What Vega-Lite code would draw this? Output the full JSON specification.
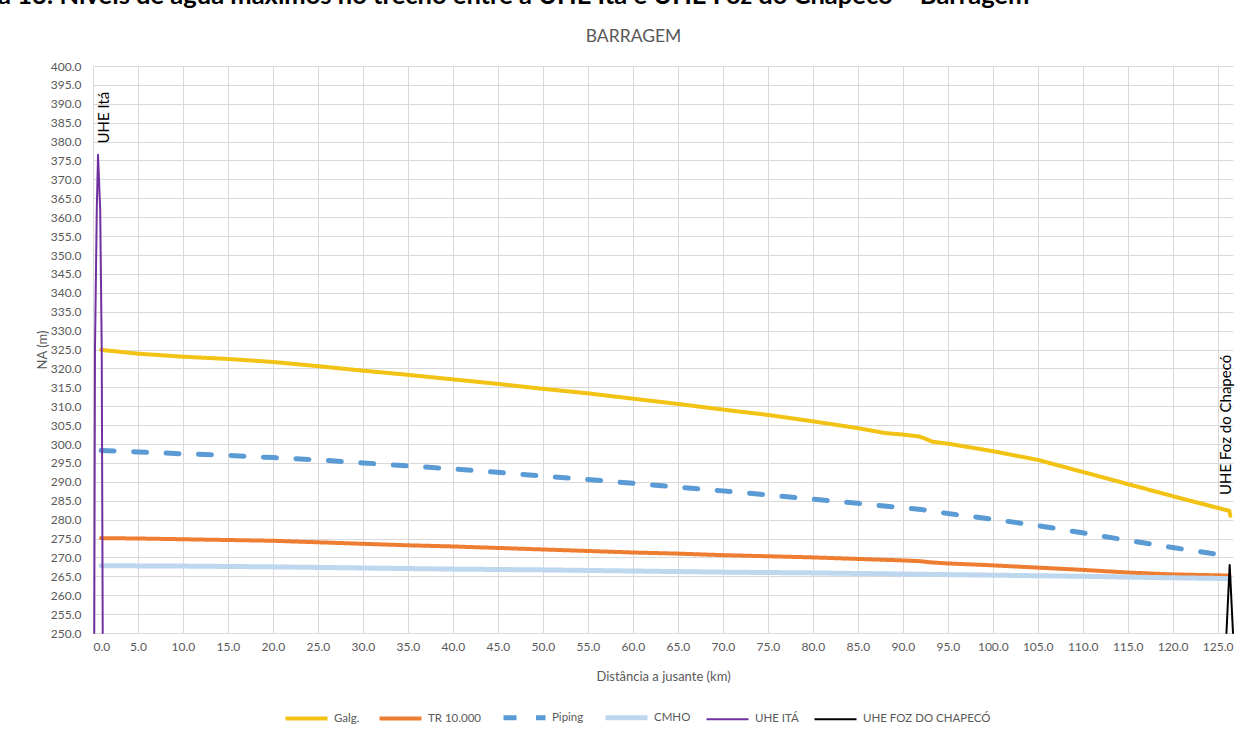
{
  "$schema": "https://vega.github.io/schema/vega-lite/v6.json",
  "autosize": {"type": "none"},
  "width": 1140,
  "height": 567,
  "padding": {"left": 93, "top": 66, "right": 23, "bottom": 100},
  "background": "white",
  "title": {
    "text": "Figura 13: Níveis de água máximos no trecho entre a UHE Itá e UHE Foz do Chapecó – Barragem",
    "anchor": "start",
    "frame": "group",
    "dx": -153,
    "dy": -8,
    "offset": 10,
    "fontSize": 25.5,
    "font": "Lato",
    "fontWeight": "bold",
    "color": "#000000"
  },
  "config": {
    "font": "Lato",
    "view": {"stroke": null},
    "axis": {
      "gridColor": "#d9d9d9",
      "gridWidth": 1,
      "domain": false,
      "ticks": false,
      "labelColor": "#595959",
      "labelFontSize": 12,
      "titleColor": "#595959",
      "titleFontWeight": "normal",
      "titleFontSize": 13
    }
  },
  "resolve": {"axis": {"x": "independent"}},
  "layer": [
    {
      "data": {
        "values": [
          {"series": "Galg.", "km": 0.9, "na": 324.9},
          {"series": "Galg.", "km": 5, "na": 323.9},
          {"series": "Galg.", "km": 10, "na": 323.1},
          {"series": "Galg.", "km": 15, "na": 322.5},
          {"series": "Galg.", "km": 20, "na": 321.7},
          {"series": "Galg.", "km": 25, "na": 320.6},
          {"series": "Galg.", "km": 30, "na": 319.4},
          {"series": "Galg.", "km": 35, "na": 318.3},
          {"series": "Galg.", "km": 40, "na": 317.1},
          {"series": "Galg.", "km": 45, "na": 315.9},
          {"series": "Galg.", "km": 50, "na": 314.6},
          {"series": "Galg.", "km": 55, "na": 313.4},
          {"series": "Galg.", "km": 60, "na": 312.0},
          {"series": "Galg.", "km": 65, "na": 310.6},
          {"series": "Galg.", "km": 70, "na": 309.1},
          {"series": "Galg.", "km": 75, "na": 307.7},
          {"series": "Galg.", "km": 80, "na": 306.0},
          {"series": "Galg.", "km": 85, "na": 304.2},
          {"series": "Galg.", "km": 88, "na": 302.9},
          {"series": "Galg.", "km": 90, "na": 302.5},
          {"series": "Galg.", "km": 91.8, "na": 302.0},
          {"series": "Galg.", "km": 92.5, "na": 301.4},
          {"series": "Galg.", "km": 93.3, "na": 300.6},
          {"series": "Galg.", "km": 95, "na": 300.1},
          {"series": "Galg.", "km": 100, "na": 298.1},
          {"series": "Galg.", "km": 105, "na": 295.8},
          {"series": "Galg.", "km": 110, "na": 292.6},
          {"series": "Galg.", "km": 115, "na": 289.4},
          {"series": "Galg.", "km": 120, "na": 286.2},
          {"series": "Galg.", "km": 125, "na": 283.1},
          {"series": "Galg.", "km": 126.3, "na": 282.3},
          {"series": "Galg.", "km": 126.4, "na": 281.0},
          {"series": "TR 10.000", "km": 0.9, "na": 275.1},
          {"series": "TR 10.000", "km": 5, "na": 275.0},
          {"series": "TR 10.000", "km": 10, "na": 274.8},
          {"series": "TR 10.000", "km": 15, "na": 274.6},
          {"series": "TR 10.000", "km": 20, "na": 274.4},
          {"series": "TR 10.000", "km": 25, "na": 274.0},
          {"series": "TR 10.000", "km": 30, "na": 273.6},
          {"series": "TR 10.000", "km": 35, "na": 273.2},
          {"series": "TR 10.000", "km": 40, "na": 272.9},
          {"series": "TR 10.000", "km": 45, "na": 272.5},
          {"series": "TR 10.000", "km": 50, "na": 272.1},
          {"series": "TR 10.000", "km": 55, "na": 271.7},
          {"series": "TR 10.000", "km": 60, "na": 271.3},
          {"series": "TR 10.000", "km": 65, "na": 271.0},
          {"series": "TR 10.000", "km": 70, "na": 270.6},
          {"series": "TR 10.000", "km": 75, "na": 270.3},
          {"series": "TR 10.000", "km": 80, "na": 270.0},
          {"series": "TR 10.000", "km": 85, "na": 269.6},
          {"series": "TR 10.000", "km": 90, "na": 269.2},
          {"series": "TR 10.000", "km": 92, "na": 269.0},
          {"series": "TR 10.000", "km": 93, "na": 268.7},
          {"series": "TR 10.000", "km": 95, "na": 268.4},
          {"series": "TR 10.000", "km": 100, "na": 267.9},
          {"series": "TR 10.000", "km": 105, "na": 267.3},
          {"series": "TR 10.000", "km": 110, "na": 266.7},
          {"series": "TR 10.000", "km": 115, "na": 266.0},
          {"series": "TR 10.000", "km": 120, "na": 265.5},
          {"series": "TR 10.000", "km": 126.3, "na": 265.2},
          {"series": "Piping", "km": 0.9, "na": 298.3},
          {"series": "Piping", "km": 5, "na": 297.9},
          {"series": "Piping", "km": 10, "na": 297.4},
          {"series": "Piping", "km": 15, "na": 297.0},
          {"series": "Piping", "km": 20, "na": 296.4},
          {"series": "Piping", "km": 25, "na": 295.8},
          {"series": "Piping", "km": 30, "na": 295.0},
          {"series": "Piping", "km": 35, "na": 294.2},
          {"series": "Piping", "km": 40, "na": 293.4},
          {"series": "Piping", "km": 45, "na": 292.5},
          {"series": "Piping", "km": 50, "na": 291.5},
          {"series": "Piping", "km": 55, "na": 290.6},
          {"series": "Piping", "km": 60, "na": 289.6},
          {"series": "Piping", "km": 65, "na": 288.6},
          {"series": "Piping", "km": 70, "na": 287.6},
          {"series": "Piping", "km": 75, "na": 286.5},
          {"series": "Piping", "km": 80, "na": 285.4},
          {"series": "Piping", "km": 85, "na": 284.3},
          {"series": "Piping", "km": 90, "na": 283.1},
          {"series": "Piping", "km": 92, "na": 282.7},
          {"series": "Piping", "km": 95, "na": 281.6},
          {"series": "Piping", "km": 100, "na": 280.1},
          {"series": "Piping", "km": 105, "na": 278.4},
          {"series": "Piping", "km": 110, "na": 276.5},
          {"series": "Piping", "km": 115, "na": 274.5},
          {"series": "Piping", "km": 120, "na": 272.6},
          {"series": "Piping", "km": 125, "na": 270.8},
          {"series": "Piping", "km": 126.3, "na": 270.2},
          {"series": "CMHO", "km": 0.9, "na": 267.8},
          {"series": "CMHO", "km": 10, "na": 267.7},
          {"series": "CMHO", "km": 20, "na": 267.5},
          {"series": "CMHO", "km": 30, "na": 267.2},
          {"series": "CMHO", "km": 40, "na": 266.9},
          {"series": "CMHO", "km": 50, "na": 266.7},
          {"series": "CMHO", "km": 60, "na": 266.4},
          {"series": "CMHO", "km": 70, "na": 266.1},
          {"series": "CMHO", "km": 80, "na": 265.9},
          {"series": "CMHO", "km": 90, "na": 265.6},
          {"series": "CMHO", "km": 100, "na": 265.3},
          {"series": "CMHO", "km": 110, "na": 265.0},
          {"series": "CMHO", "km": 120, "na": 264.6},
          {"series": "CMHO", "km": 126.3, "na": 264.4},
          {"series": "UHE ITÁ", "km": 0.14, "na": 250},
          {"series": "UHE ITÁ", "km": 0.22, "na": 325},
          {"series": "UHE ITÁ", "km": 0.42, "na": 362},
          {"series": "UHE ITÁ", "km": 0.56, "na": 376.5},
          {"series": "UHE ITÁ", "km": 0.8, "na": 362},
          {"series": "UHE ITÁ", "km": 0.97, "na": 325},
          {"series": "UHE ITÁ", "km": 1.08, "na": 250},
          {"series": "UHE FOZ DO CHAPECÓ", "km": 125.97, "na": 250},
          {"series": "UHE FOZ DO CHAPECÓ", "km": 126.33, "na": 268},
          {"series": "UHE FOZ DO CHAPECÓ", "km": 126.7, "na": 250}
        ]
      },
      "mark": {"type": "line", "strokeCap": "round", "strokeJoin": "round", "clip": false},
      "encoding": {
        "x": {
          "field": "km",
          "type": "quantitative",
          "scale": {"domain": [0, 126.7], "nice": false, "zero": false},
          "axis": {
            "orient": "bottom",
            "values": [0, 5, 10, 15, 20, 25, 30, 35, 40, 45, 50, 55, 60, 65, 70, 75, 80, 85, 90, 95, 100, 105, 110, 115, 120, 125],
            "format": ".1f",
            "labelPadding": 8,
            "title": "Distância a jusante (km)",
            "titlePadding": 18
          }
        },
        "y": {
          "field": "na",
          "type": "quantitative",
          "scale": {"domain": [250, 400], "nice": false, "zero": false},
          "axis": {
            "values": [250, 255, 260, 265, 270, 275, 280, 285, 290, 295, 300, 305, 310, 315, 320, 325, 330, 335, 340, 345, 350, 355, 360, 365, 370, 375, 380, 385, 390, 395, 400],
            "format": ".1f",
            "labelPadding": 12,
            "title": "NA (m)",
            "titlePadding": 1
          }
        },
        "color": {
          "field": "series",
          "type": "nominal",
          "scale": {
            "domain": ["Galg.", "TR 10.000", "Piping", "CMHO", "UHE ITÁ", "UHE FOZ DO CHAPECÓ"],
            "range": ["#F2C314", "#ED7D31", "#5B9BD5", "#BDD7EE", "#7030A0", "#000000"]
          },
          "legend": {
            "title": null,
            "orient": "none",
            "legendX": 190,
            "legendY": 628,
            "direction": "horizontal",
            "columns": 6,
            "symbolType": "stroke",
            "symbolSize": 1764,
            "labelFontSize": 11.5,
            "labelColor": "#595959",
            "labelOffset": 4,
            "columnPadding": 11
          }
        },
        "strokeDash": {
          "field": "series",
          "type": "nominal",
          "scale": {
            "domain": ["Galg.", "TR 10.000", "Piping", "CMHO", "UHE ITÁ", "UHE FOZ DO CHAPECÓ"],
            "range": [[1, 0], [1, 0], [13, 19.5], [1, 0], [1, 0], [1, 0]]
          },
          "legend": {
            "title": null,
            "orient": "none",
            "legendX": 190,
            "legendY": 628,
            "direction": "horizontal",
            "columns": 6,
            "symbolType": "stroke",
            "symbolSize": 1764,
            "labelFontSize": 11.5,
            "labelColor": "#595959",
            "labelOffset": 4,
            "columnPadding": 11
          }
        },
        "strokeWidth": {
          "field": "series",
          "type": "nominal",
          "scale": {
            "type": "ordinal",
            "domain": ["Galg.", "TR 10.000", "Piping", "CMHO", "UHE ITÁ", "UHE FOZ DO CHAPECÓ"],
            "range": [4, 4, 5, 5, 2, 2]
          },
          "legend": {
            "title": null,
            "orient": "none",
            "legendX": 190,
            "legendY": 628,
            "direction": "horizontal",
            "columns": 6,
            "symbolType": "stroke",
            "symbolSize": 1764,
            "labelFontSize": 11.5,
            "labelColor": "#595959",
            "labelOffset": 4,
            "columnPadding": 11
          }
        }
      }
    },
    {
      "data": {
        "values": [
          {"label": "UHE Itá", "km": 1.2, "na": 379.5},
          {"label": "UHE Foz do Chapecó", "km": 125.9, "na": 286.5}
        ]
      },
      "mark": {"type": "text", "angle": 270, "align": "left", "baseline": "middle", "fontSize": 15, "font": "Lato", "color": "#000000"},
      "encoding": {
        "x": {
          "field": "km",
          "type": "quantitative",
          "scale": {"domain": [0, 126.7], "nice": false, "zero": false},
          "axis": {
            "orient": "top",
            "labels": false,
            "ticks": false,
            "domain": false,
            "grid": false,
            "title": "BARRAGEM",
            "titleFontSize": 17.5,
            "titleX": 540,
            "titleY": -25,
            "titleAlign": "center",
            "titleBaseline": "alphabetic"
          }
        },
        "y": {
          "field": "na",
          "type": "quantitative",
          "scale": {"domain": [250, 400], "nice": false, "zero": false},
          "axis": {
            "values": [250, 255, 260, 265, 270, 275, 280, 285, 290, 295, 300, 305, 310, 315, 320, 325, 330, 335, 340, 345, 350, 355, 360, 365, 370, 375, 380, 385, 390, 395, 400],
            "format": ".1f",
            "labelPadding": 12,
            "title": "NA (m)",
            "titlePadding": 1
          }
        },
        "text": {"field": "label", "type": "nominal"}
      }
    }
  ]
}
